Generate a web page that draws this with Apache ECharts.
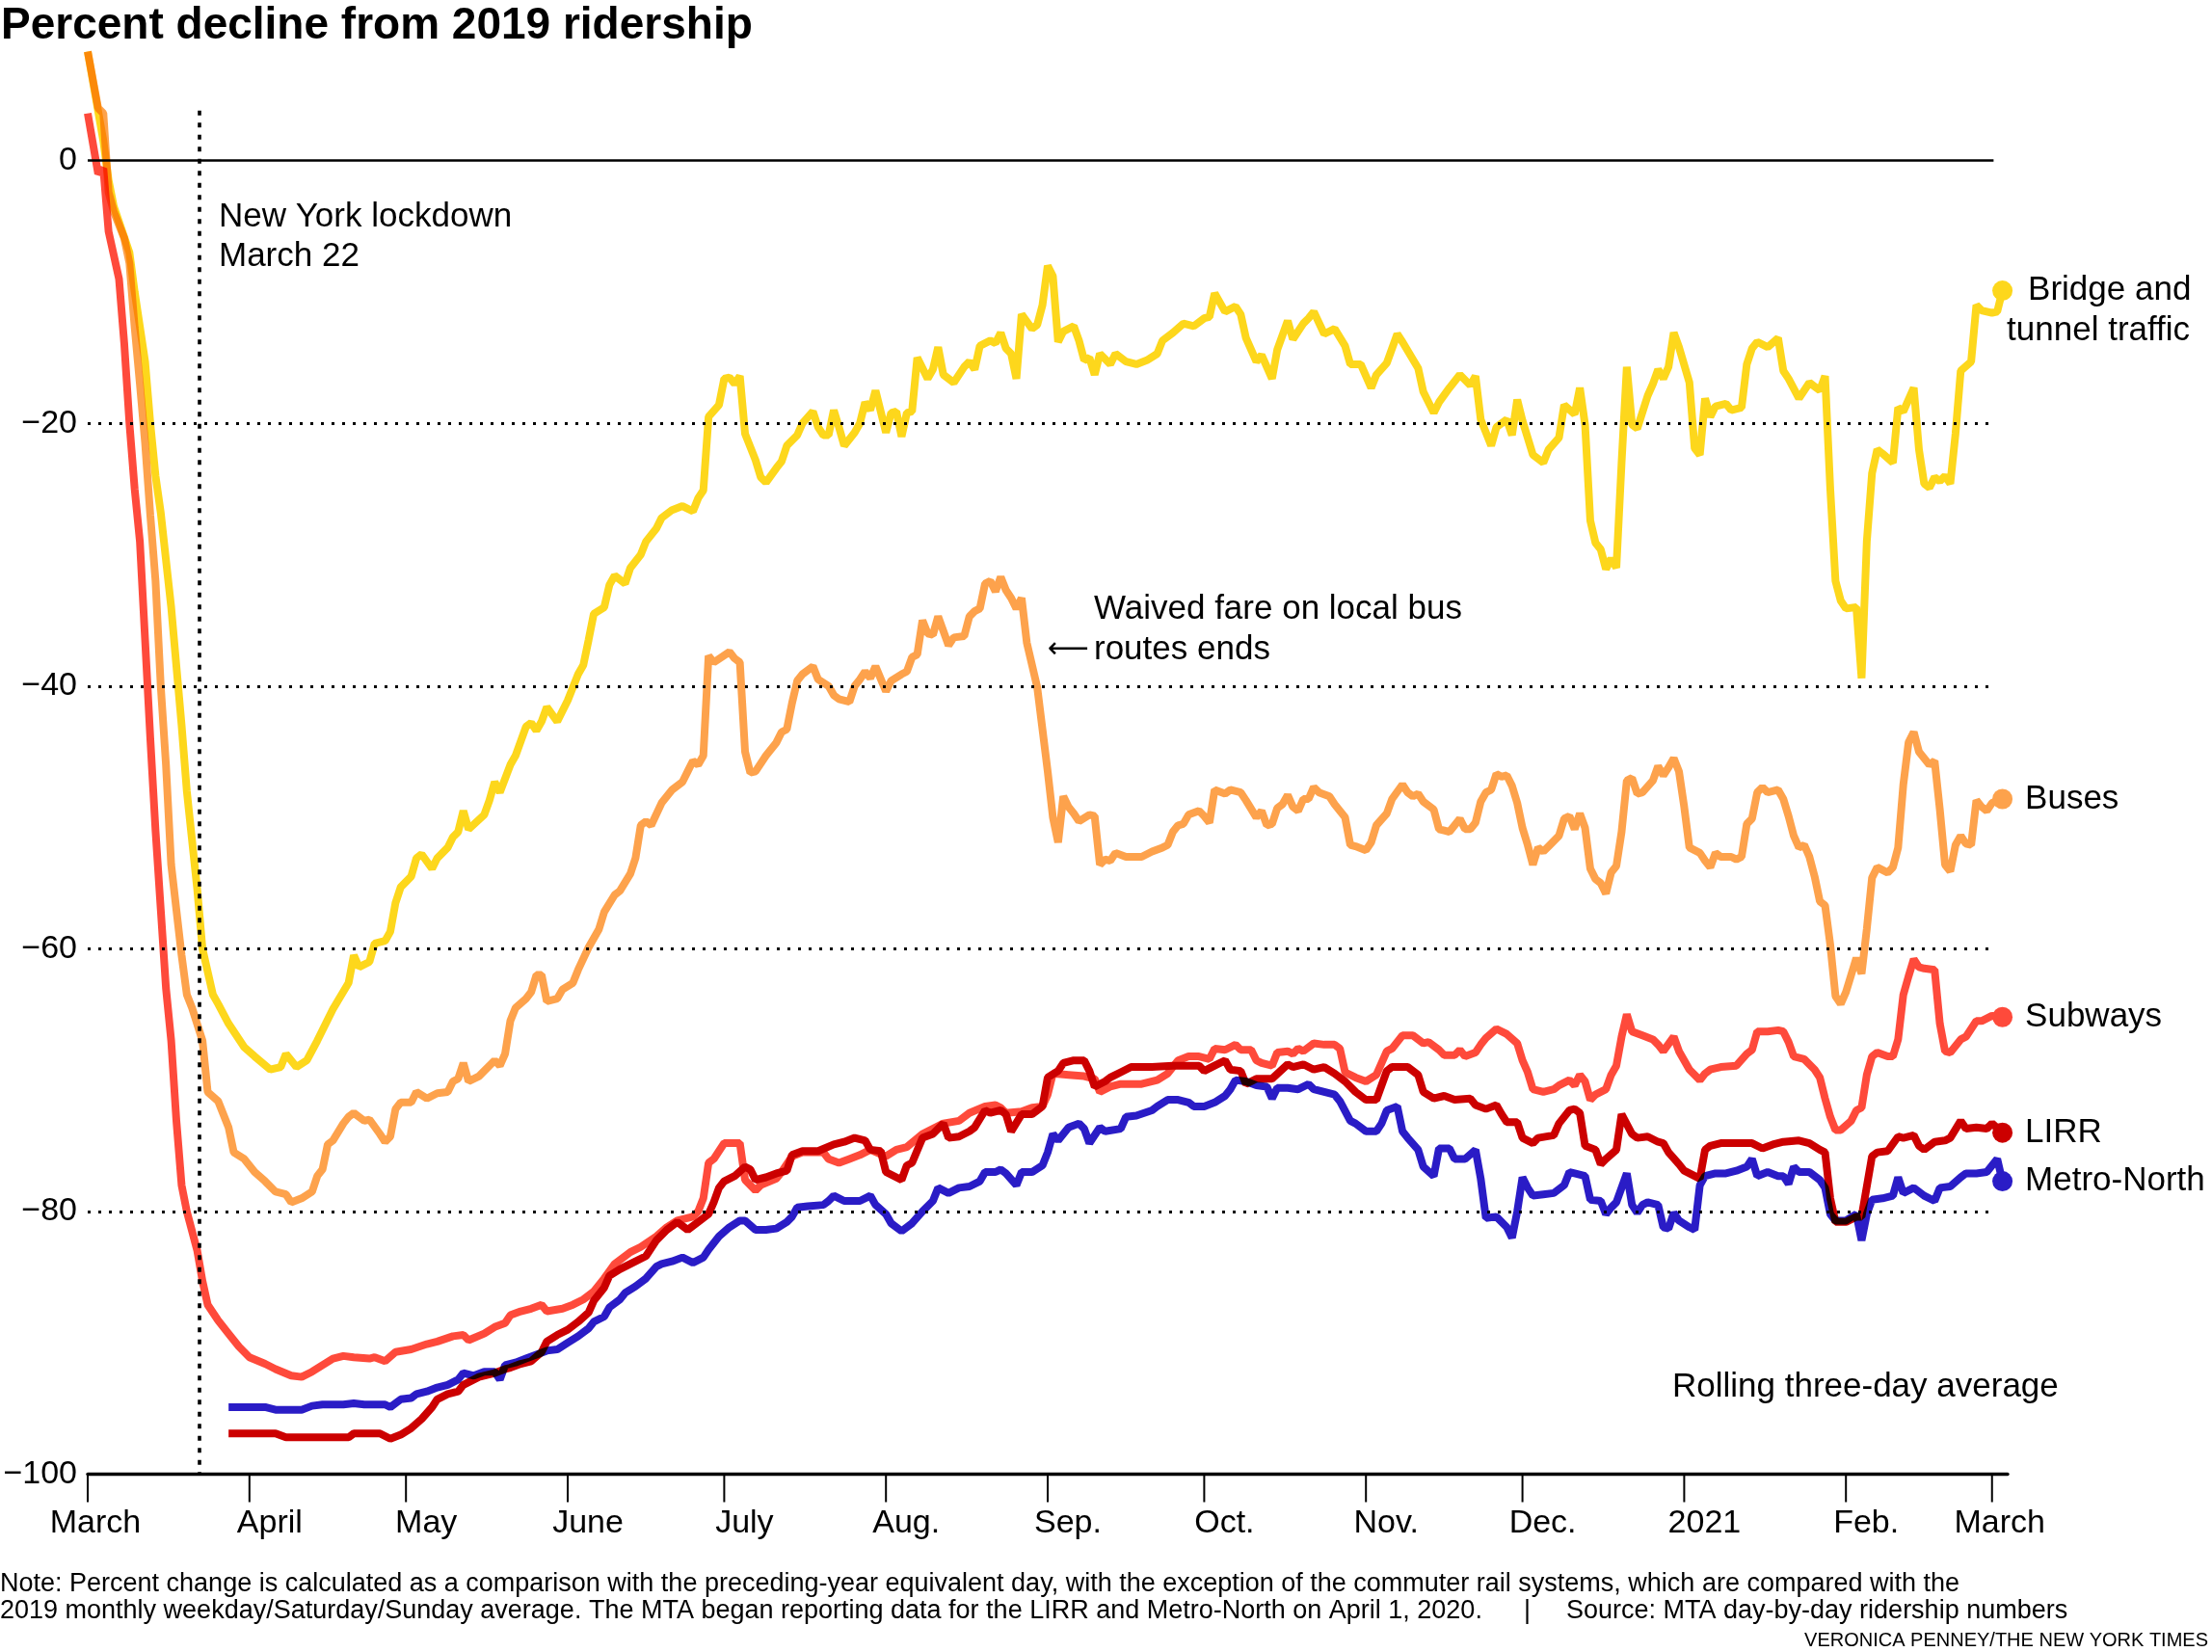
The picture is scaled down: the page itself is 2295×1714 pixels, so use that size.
<!DOCTYPE html>
<html><head><meta charset="utf-8">
<script src="https://cdn.jsdelivr.net/npm/echarts@6/dist/echarts.min.js"></script>
<style>html,body{margin:0;padding:0;background:#fff}#chart{width:2295px;height:1714px}</style>
</head><body><div id="chart"></div>
<script>
// x values: days since March 1, 2020; y values: percent change vs 2019
const START = '2020-03-01';
const monthTickDates = ['2020-03-01','2020-04-01','2020-05-01','2020-06-01','2020-07-01','2020-08-01','2020-09-01','2020-10-01','2020-11-01','2020-12-01','2021-01-01','2021-02-01','2021-03-01'];
const monthTickLabels = ['March','April','May','June','July','Aug.','Sep.','Oct.','Nov.','Dec.','2021','Feb.','March'];
const yTickValues = [0,-20,-40,-60,-80,-100];
const lockdownDay = 21.4; // March 22

const bridgeTunnel = [[0,8.3],[3,1.5],[4,-1.5],[5,-3.5],[8,-7],[9,-10],[11,-15.3],[12,-20],[13,-24],[14,-26.8],[16,-34],[18,-43],[19,-48],[21,-55.5],[22,-60],[24,-63.5],[25,-64.2],[27,-65.7],[30,-67.5],[32,-68.2],[35,-69.2],[37,-69],[38,-68],[40,-69],[42,-68.5],[44,-67],[47,-64.6],[50,-62.6],[51,-60.5],[52,-61.4],[54,-61],[55,-59.6],[57,-59.4],[58,-58.7],[59,-56.5],[60,-55.3],[62,-54.5],[63,-53.1],[64,-52.8],[66,-53.9],[67,-53.1],[69,-52.3],[70,-51.5],[71,-51.1],[72,-49.5],[73,-50.9],[76,-49.8],[77,-48.7],[78,-47.3],[79,-48.1],[81,-46],[82,-45.3],[84,-43.1],[85,-42.8],[86,-43.4],[87,-42.7],[88,-41.6],[90,-42.7],[92,-41.1],[94,-39.1],[95,-38.4],[96,-36.5],[97,-34.5],[99,-34],[100,-32.3],[101,-31.6],[103,-32.2],[104,-31],[106,-30],[107,-29],[109,-28],[110,-27.2],[112,-26.6],[114,-26.3],[116,-26.7],[117,-25.7],[118,-25.1],[119,-19.5],[121,-18.6],[122,-16.6],[123,-16.5],[124,-17],[125,-16.4],[126,-20.8],[128,-22.8],[129,-24.1],[130,-24.5],[132,-23.4],[133,-22.9],[134,-21.7],[136,-20.9],[137,-20],[139,-19.1],[140,-20.3],[141,-20.9],[142,-20.9],[143,-19],[144,-20.3],[145,-21.7],[147,-20.7],[148,-20],[149,-18.4],[150,-19],[151,-17.5],[153,-20.7],[154,-19.2],[155,-19.1],[156,-21],[157,-19.2],[158,-19.1],[159,-15],[161,-16.6],[162,-15.9],[163,-14.2],[164,-16.3],[166,-16.9],[168,-15.7],[169,-15.3],[170,-15.9],[171,-14.1],[173,-13.7],[174,-13.9],[175,-13.1],[176,-14.3],[177,-14.7],[178,-16.6],[179,-11.7],[181,-12.8],[182,-12.5],[183,-11],[184,-8],[185,-8.8],[186,-13.8],[187,-13],[189,-12.6],[190,-13.7],[191,-15.2],[192,-15],[193,-16.3],[194,-14.7],[196,-15.5],[197,-14.7],[199,-15.3],[201,-15.5],[203,-15.2],[205,-14.7],[206,-13.7],[208,-13.1],[210,-12.4],[212,-12.6],[214,-12],[215,-11.9],[216,-10.1],[218,-11.5],[220,-11.1],[221,-11.7],[222,-13.5],[224,-15.3],[225,-14.8],[227,-16.6],[228,-14.4],[230,-12.2],[231,-13.6],[233,-12.4],[234,-12],[235,-11.5],[237,-13.2],[239,-12.8],[241,-14.1],[242,-15.5],[244,-15.5],[246,-17.3],[247,-16.3],[249,-15.4],[251,-13.2],[252,-13.8],[255,-15.8],[256,-17.6],[258,-19.2],[259,-18.4],[261,-17.3],[263,-16.3],[265,-17.1],[266,-16.4],[267,-19.7],[269,-21.7],[270,-20.3],[272,-19.7],[273,-20.9],[274,-18.2],[275,-19.8],[277,-22.4],[279,-23],[280,-22],[282,-21.1],[283,-18.6],[285,-19.3],[286,-17.3],[287,-20.1],[288,-27.4],[289,-29.1],[290,-29.6],[291,-31.1],[292,-30.3],[293,-31],[294,-23],[295,-15.7],[296,-20.1],[297,-20.4],[299,-17.9],[300,-17],[301,-15.9],[302,-16.6],[303,-15.7],[304,-13.1],[305,-14.2],[307,-16.9],[308,-21.9],[309,-22.4],[310,-18.1],[311,-19.5],[312,-18.7],[314,-18.5],[315,-19],[317,-18.8],[318,-15.5],[319,-14.3],[320,-13.8],[322,-14.2],[324,-13.5],[325,-16],[326,-16.6],[328,-18.1],[330,-16.9],[332,-17.5],[333,-16.4],[334,-25],[335,-32],[336,-33.5],[337,-34.1],[339,-34],[340,-39.4],[341,-29],[342,-23.8],[343,-22],[344,-22.3],[346,-23],[347,-18.8],[348,-19.1],[350,-17.3],[351,-22],[352,-24.6],[353,-24.9],[354,-24.1],[355,-24.4],[356,-24],[357,-24.6],[358,-20.8],[359,-16],[361,-15.3],[362,-11],[363,-11.4],[365,-11.6],[366,-11.5],[367,-9.9]];

const buses = [[0,8.3],[2,4],[3,3.6],[4,-2.4],[5,-3.9],[7,-5.9],[8,-7.8],[9,-12.7],[10,-17],[11,-21.5],[12,-27],[13,-32],[14,-40],[15,-46],[16,-53.6],[18,-60.5],[19,-63.5],[20,-64.5],[22,-67],[23,-70.9],[25,-71.6],[27,-73.6],[28,-75.5],[30,-76],[32,-77],[34,-77.7],[36,-78.5],[38,-78.7],[39,-79.3],[41,-79],[43,-78.5],[44,-77.3],[45,-76.8],[46,-74.9],[47,-74.6],[49,-73.3],[50,-72.8],[51,-72.5],[53,-73.1],[54,-73],[56,-74.1],[57,-74.7],[58,-74.3],[59,-72.2],[60,-71.7],[62,-71.7],[63,-70.9],[65,-71.4],[67,-71],[69,-70.9],[70,-70.1],[71,-69.9],[72,-68.7],[73,-70.1],[75,-69.7],[76,-69.3],[78,-68.5],[79,-68.9],[80,-68],[81,-65.5],[82,-64.5],[84,-63.8],[85,-63.3],[86,-62],[87,-62],[88,-64],[90,-63.8],[91,-63.1],[93,-62.6],[94,-61.6],[96,-59.9],[98,-58.5],[99,-57.2],[101,-55.9],[102,-55.6],[104,-54.3],[105,-53.1],[106,-50.6],[107,-50.3],[108,-50.6],[110,-48.9],[112,-47.9],[114,-47.3],[115,-46.5],[116,-45.7],[117,-46],[118,-45.3],[119,-37.7],[120,-38.2],[123,-37.4],[124,-37.9],[125,-38.2],[126,-45],[127,-46.6],[128,-46.5],[130,-45.3],[132,-44.3],[133,-43.5],[134,-43.3],[135,-41.3],[136,-39.6],[137,-39.1],[139,-38.5],[140,-39.5],[142,-40],[143,-40.7],[144,-41],[146,-41.2],[147,-40],[148,-39.5],[149,-38.9],[150,-39.4],[151,-38.5],[153,-40.4],[154,-39.6],[156,-39.1],[157,-38.9],[158,-37.8],[159,-37.6],[160,-35],[161,-36],[162,-36.1],[163,-34.7],[165,-36.9],[166,-36.3],[168,-36.2],[169,-34.7],[170,-34.3],[171,-34.1],[172,-32.2],[173,-32],[174,-32.8],[175,-31.7],[176,-32.7],[177,-33.3],[178,-34.1],[179,-33.3],[180,-36.7],[182,-40.1],[183,-43.3],[184,-46.5],[185,-50],[186,-51.9],[187,-48.4],[188,-49.2],[189,-49.7],[190,-50.3],[192,-49.8],[193,-49.9],[194,-53.6],[195,-53.2],[196,-53.3],[197,-52.7],[199,-53],[202,-53],[204,-52.6],[206,-52.3],[207,-52.1],[208,-51.1],[209,-50.6],[210,-50.5],[211,-49.8],[213,-49.5],[214,-49.9],[215,-50.4],[216,-47.9],[218,-48.2],[219,-47.9],[221,-48.1],[222,-48.7],[224,-50],[225,-49.5],[226,-50.6],[227,-50.5],[228,-49.3],[229,-49],[230,-48.3],[231,-49.2],[232,-49.5],[233,-48.6],[234,-48.6],[235,-47.7],[236,-48.1],[238,-48.4],[239,-49],[241,-50],[242,-52.1],[243,-52.2],[245,-52.5],[246,-51.9],[247,-50.6],[249,-49.7],[250,-48.6],[252,-47.5],[253,-48.1],[254,-48.4],[255,-48.2],[256,-48.8],[258,-49.4],[259,-50.9],[260,-51],[261,-51.1],[263,-50.1],[264,-50.9],[265,-50.9],[266,-50.4],[267,-48.8],[268,-48.1],[269,-47.9],[270,-46.7],[271,-46.9],[272,-46.8],[273,-47.6],[274,-48.9],[275,-50.8],[276,-52.1],[277,-53.6],[278,-52.3],[279,-52.6],[280,-52.2],[282,-51.4],[283,-50.1],[284,-49.9],[285,-50.9],[286,-49.7],[287,-50.8],[288,-53.9],[289,-54.7],[290,-55],[291,-55.8],[292,-54.2],[293,-53.7],[294,-51.1],[295,-47.2],[296,-47],[297,-48.2],[298,-48.1],[300,-47.2],[301,-46.1],[302,-46.8],[303,-46.2],[304,-45.5],[305,-46.5],[306,-49.2],[307,-52.3],[309,-52.7],[310,-53.3],[311,-53.8],[312,-52.7],[313,-53],[315,-53],[316,-53.2],[317,-53],[318,-50.5],[319,-50.1],[320,-48.1],[321,-47.7],[322,-48.1],[324,-47.9],[325,-48.6],[326,-49.9],[327,-51.4],[328,-52.3],[329,-52.1],[330,-53],[331,-54.5],[332,-56.4],[333,-56.7],[334,-59.7],[335,-63.6],[336,-64.2],[337,-63.3],[338,-62],[339,-60.7],[340,-61.9],[341,-58.5],[342,-54.6],[343,-53.8],[345,-54.2],[346,-53.8],[347,-52.3],[348,-47.5],[349,-44.3],[350,-43.5],[351,-45],[352,-45.5],[353,-46],[354,-45.7],[355,-49.4],[356,-53.6],[357,-54.1],[358,-52.1],[359,-51.4],[360,-52],[361,-52.1],[362,-48.7],[363,-49.2],[364,-49.5],[365,-48.9],[367,-48.6]];

const subways = [[0,3.6],[2,-1],[3,-0.6],[4,-5.4],[6,-9],[7,-13.9],[8,-20],[9,-25],[10,-29],[11,-36.5],[12,-44],[13,-51],[14,-57],[15,-63],[16,-67],[17,-73.1],[18,-78],[19,-80],[21,-83],[22,-85.3],[23,-87.1],[25,-88.3],[27,-89.3],[29,-90.3],[31,-91.1],[34,-91.6],[36,-92],[39,-92.5],[41,-92.6],[43,-92.2],[45,-91.7],[47,-91.2],[49,-91],[51,-91.1],[54,-91.2],[55,-91.1],[57,-91.4],[59,-90.7],[62,-90.5],[65,-90.1],[67,-89.9],[70,-89.5],[72,-89.4],[73,-89.8],[76,-89.3],[78,-88.8],[80,-88.5],[81,-87.9],[83,-87.6],[85,-87.4],[87,-87.1],[88,-87.6],[91,-87.4],[93,-87.1],[95,-86.7],[97,-86.1],[99,-85.1],[101,-84],[104,-83.1],[106,-82.7],[109,-81.9],[111,-81.2],[113,-80.7],[116,-80.4],[117,-80],[118,-79],[119,-76.3],[120,-76],[122,-74.8],[125,-74.8],[126,-77.6],[128,-78.4],[129,-78],[132,-77.5],[133,-77],[135,-75.8],[137,-75.5],[141,-75.5],[142,-76],[144,-76.3],[146,-76],[148,-75.7],[150,-75.3],[153,-75.8],[155,-75.3],[157,-75.1],[160,-74.1],[162,-73.7],[164,-73.3],[167,-73.1],[169,-72.5],[172,-72],[174,-71.9],[175,-72.1],[176,-72.5],[179,-72.4],[181,-72.1],[183,-72],[184,-71.1],[185,-69.5],[188,-69.6],[191,-69.7],[193,-69.9],[194,-70.9],[196,-70.5],[198,-70.3],[202,-70.3],[205,-70],[207,-69.5],[209,-68.5],[211,-68.2],[213,-68.2],[215,-68.4],[216,-67.6],[218,-67.7],[220,-67.3],[221,-67.7],[223,-67.7],[224,-68.5],[225,-68.7],[227,-68.9],[228,-67.9],[230,-67.8],[231,-68],[232,-67.6],[233,-67.8],[235,-67.2],[237,-67.3],[239,-67.3],[240,-67.6],[241,-69.4],[243,-69.8],[245,-70.1],[247,-69.6],[249,-67.8],[250,-67.6],[252,-66.6],[254,-66.6],[256,-67.2],[257,-67.1],[259,-67.7],[260,-68.1],[262,-68.1],[263,-67.7],[264,-68.2],[266,-67.9],[267,-67.3],[268,-66.8],[270,-66.1],[272,-66.5],[274,-67.2],[275,-68.5],[276,-69.4],[277,-70.7],[279,-70.9],[281,-70.7],[282,-70.4],[284,-70],[285,-70.4],[286,-69.6],[287,-70.1],[288,-71.5],[289,-71.1],[291,-70.7],[292,-69.6],[293,-68.9],[294,-66.7],[295,-65],[296,-66.3],[298,-66.6],[300,-66.9],[301,-67.3],[302,-67.8],[304,-66.7],[305,-67.8],[307,-69.2],[309,-70],[310,-69.5],[311,-69.2],[313,-69],[316,-68.9],[318,-68],[319,-67.7],[320,-66.3],[322,-66.3],[324,-66.2],[325,-66.3],[326,-67.1],[327,-68.2],[329,-68.4],[331,-69.2],[332,-69.8],[333,-71.4],[334,-72.8],[335,-73.8],[336,-73.8],[338,-73.1],[339,-72.3],[340,-72.1],[341,-69.6],[342,-68.2],[343,-67.9],[345,-68.2],[346,-68.2],[347,-66.9],[348,-63.5],[349,-62.1],[350,-60.8],[351,-61.4],[352,-61.5],[354,-61.6],[355,-65.7],[356,-67.8],[357,-67.9],[359,-66.9],[360,-66.7],[362,-65.5],[363,-65.5],[365,-65.1],[367,-65.2]];

const lirr = [[27,-96.9],[36,-96.9],[38,-97.2],[50,-97.2],[51,-96.9],[56,-96.9],[58,-97.3],[60,-97],[62,-96.5],[64,-95.8],[66,-94.9],[67,-94.3],[69,-93.9],[71,-93.7],[72,-93.2],[73,-93],[75,-92.6],[78,-92.3],[80,-92],[81,-91.9],[83,-91.6],[85,-91.4],[87,-90.7],[88,-89.9],[90,-89.4],[92,-89],[94,-88.4],[96,-87.7],[97,-86.8],[99,-85.8],[100,-84.9],[102,-84.4],[104,-84],[107,-83.4],[109,-82.2],[111,-81.4],[113,-80.8],[115,-81.4],[117,-80.8],[119,-80.2],[120,-79.3],[121,-78.2],[122,-77.7],[124,-77.3],[126,-76.6],[127,-76.8],[128,-77.6],[130,-77.4],[132,-77.1],[134,-76.9],[135,-75.7],[137,-75.4],[140,-75.4],[143,-74.9],[145,-74.7],[147,-74.4],[149,-74.6],[150,-75.3],[152,-75.4],[153,-77],[155,-77.4],[156,-77.6],[157,-76.5],[158,-76.3],[160,-74.4],[162,-74.1],[164,-73.3],[165,-74.4],[167,-74.3],[169,-73.9],[170,-73.6],[172,-72.3],[173,-72.5],[175,-72.3],[176,-72.6],[177,-73.9],[179,-72.6],[181,-72.6],[182,-72.3],[183,-72],[184,-69.8],[186,-69.3],[187,-68.7],[189,-68.5],[191,-68.5],[192,-69.3],[193,-70.5],[195,-70.1],[196,-69.8],[198,-69.4],[200,-69],[204,-69],[208,-68.9],[213,-68.9],[214,-69.3],[216,-68.9],[218,-68.5],[219,-69.2],[221,-69.3],[222,-70.3],[224,-69.9],[227,-69.9],[230,-68.8],[231,-69],[233,-68.8],[235,-69.2],[237,-69],[239,-69.5],[241,-70.1],[243,-70.9],[245,-71.5],[247,-71.5],[248,-70.4],[249,-69.3],[250,-69],[253,-69],[255,-69.6],[256,-70.9],[258,-71.4],[260,-71.2],[262,-71.5],[265,-71.4],[266,-71.9],[268,-72.2],[270,-71.9],[271,-72.6],[272,-73.2],[274,-73.2],[275,-74.4],[277,-74.8],[278,-74.4],[281,-74.2],[282,-73.3],[284,-72.3],[285,-72.2],[286,-72.5],[287,-75],[289,-75.3],[290,-76.4],[291,-76],[293,-75.3],[294,-72.6],[296,-74.1],[297,-74.4],[299,-74.3],[301,-74.7],[302,-74.8],[303,-75.5],[305,-76.4],[306,-76.9],[309,-77.5],[310,-75.3],[311,-75],[313,-74.8],[319,-74.8],[321,-75.2],[323,-74.9],[325,-74.7],[328,-74.6],[330,-74.8],[332,-75.3],[333,-75.5],[334,-79],[335,-80.8],[337,-80.8],[339,-80.4],[340,-80.4],[342,-75.8],[343,-75.5],[345,-75.4],[347,-74.3],[348,-74.4],[350,-74.2],[351,-75],[352,-75.3],[354,-74.7],[356,-74.6],[357,-74.4],[359,-73.1],[360,-73.7],[362,-73.6],[364,-73.7],[365,-73.3],[367,-74]];

const metroNorth = [[27,-94.9],[34,-94.9],[36,-95.1],[41,-95.1],[43,-94.8],[45,-94.7],[49,-94.7],[51,-94.6],[53,-94.7],[57,-94.7],[58,-94.9],[60,-94.3],[62,-94.2],[63,-93.9],[65,-93.7],[67,-93.4],[69,-93.2],[71,-92.8],[72,-92.3],[74,-92.5],[76,-92.2],[78,-92.2],[79,-92.8],[80,-91.7],[82,-91.5],[84,-91.2],[86,-90.9],[88,-90.6],[90,-90.5],[92,-90],[94,-89.5],[96,-88.9],[97,-88.4],[99,-88],[100,-87.3],[102,-86.7],[103,-86.2],[105,-85.7],[107,-85.1],[109,-84.2],[110,-84],[112,-83.8],[114,-83.5],[116,-83.9],[118,-83.5],[119,-82.9],[121,-81.9],[123,-81.2],[125,-80.7],[126,-80.7],[128,-81.4],[130,-81.4],[132,-81.3],[134,-80.8],[135,-80.4],[136,-79.7],[138,-79.6],[141,-79.5],[142,-79.2],[143,-78.8],[145,-79.2],[148,-79.2],[150,-78.8],[151,-79.5],[153,-80.2],[154,-80.9],[156,-81.5],[158,-80.9],[160,-80],[162,-79.2],[163,-78.2],[165,-78.6],[167,-78.2],[169,-78.1],[171,-77.7],[172,-77],[174,-77],[175,-76.8],[176,-77.1],[178,-78],[179,-77],[181,-77],[183,-76.5],[184,-75.5],[185,-74.1],[186,-74.6],[188,-73.6],[190,-73.3],[191,-73.7],[192,-74.8],[194,-73.6],[195,-73.9],[198,-73.7],[199,-72.8],[201,-72.7],[204,-72.3],[205,-72],[207,-71.5],[209,-71.5],[211,-71.7],[212,-72],[214,-72],[216,-71.7],[218,-71.2],[219,-70.7],[220,-70],[222,-70.1],[224,-70.4],[226,-70.5],[227,-71.4],[228,-70.6],[230,-70.6],[232,-70.7],[234,-70.3],[235,-70.7],[237,-70.9],[239,-71.1],[240,-71.6],[242,-73.1],[243,-73.3],[245,-73.9],[247,-73.9],[248,-73.3],[249,-72.3],[251,-72],[252,-73.9],[253,-74.4],[255,-75.3],[256,-76.6],[258,-77.3],[259,-75.2],[261,-75.2],[262,-76],[264,-76],[266,-75.3],[267,-77.5],[268,-80.5],[270,-80.4],[272,-81.2],[273,-82],[274,-80],[275,-77.4],[276,-78.2],[277,-78.8],[279,-78.7],[281,-78.6],[283,-78],[284,-77],[285,-77.1],[287,-77.3],[288,-79.1],[290,-79.2],[291,-80.2],[292,-79.7],[293,-79.3],[295,-77.1],[296,-79.5],[297,-80.1],[298,-79.5],[299,-79.3],[301,-79.5],[302,-81.2],[303,-81.3],[304,-80.1],[305,-80.7],[307,-81.2],[308,-81.4],[309,-78],[310,-77.3],[312,-77.1],[314,-77.1],[316,-76.9],[318,-76.6],[319,-76],[320,-77.3],[322,-77],[324,-77.3],[325,-77.3],[326,-77.9],[327,-76.6],[328,-77],[330,-77],[332,-77.6],[333,-78.2],[334,-80.2],[335,-80.7],[337,-80.7],[339,-80.2],[340,-82.2],[341,-80.2],[342,-79.1],[344,-79],[346,-78.8],[347,-77.4],[348,-78.6],[350,-78.2],[352,-78.8],[354,-79.2],[355,-78.2],[357,-78.1],[359,-77.4],[360,-77.1],[362,-77.1],[364,-77],[366,-76],[367,-77.7]];

const seriesNames = ['Bridge and tunnel traffic','Buses','Subways','Metro-North','LIRR'];
const seriesData = [bridgeTunnel, buses, subways, metroNorth, lirr];
const seriesColors = ['#fdd71c','#fda24c','#fe4a3b','#2a1cc6','#cc0000'];

// ---------------------------------------------------------------------
const FONT = '"Liberation Sans", Arial, Helvetica, sans-serif';
const DAY_MS = 86400000;
const T0 = Date.parse(START);
const toTime = d => T0 + d * DAY_MS;

const chart = echarts.init(document.getElementById('chart'), null, {renderer: 'canvas'});

const dotted = {type: [3, 8], width: 2.8, color: '#000'};
const gridLineEnd = 365.3;
const markLineData = [
  [{coord: [toTime(0), 0], lineStyle: {type: 'solid', width: 2.6, color: '#000'}}, {coord: [toTime(gridLineEnd), 0]}]
].concat(yTickValues.filter(v => v !== 0 && v !== -100).map(v => [
  {coord: [toTime(0), v], lineStyle: dotted}, {coord: [toTime(gridLineEnd), v]}
])).concat([
  [{coord: [toTime(lockdownDay), 3.8], lineStyle: {type: [5, 7.5], width: 3.6, color: '#000'}}, {coord: [toTime(lockdownDay), -100]}]
]);

const lineSeries = seriesNames.map((name, i) => ({
  name, type: 'line', z: 3,
  data: seriesData[i].map(p => [toTime(p[0]), p[1]]),
  showSymbol: false, symbol: 'none', smooth: false,
  lineStyle: {color: seriesColors[i], width: 8},
  itemStyle: {color: seriesColors[i]},
  emphasis: {disabled: true}, silent: true
}));

const endLabelOpts = {
  'Bridge and tunnel traffic': {formatter: '{a|Bridge and}\n{b|tunnel traffic}', offset: [-19, 21]},
};
const endPoints = seriesNames.map((name, i) => {
  const last = seriesData[i][seriesData[i].length - 1];
  const extra = endLabelOpts[name] || {};
  return {
    name,
    value: [toTime(last[0]), last[1]],
    itemStyle: {color: seriesColors[i], opacity: 1},
    label: {
      show: true, position: 'right', distance: 13,
      formatter: extra.formatter || '{b|{b}}',
      offset: extra.offset || [0, 0],
      rich: {
        a: {fontSize: 35, fontFamily: FONT, color: '#000', lineHeight: 42, padding: [0, 0, 0, 22]},
        b: {fontSize: 35, fontFamily: FONT, color: '#000', lineHeight: 42}
      }
    }
  };
});

const option = {
  backgroundColor: '#fff',
  animation: false,
  useUTC: true,
  grid: {left: 91, right: 212, top: 44, bottom: 184.5, containLabel: false, outerBoundsMode: 'none'},
  xAxis: {
    type: 'time', min: toTime(0), max: toTime(368),
    axisLine: {show: true, onZero: false, lineStyle: {color: '#000', width: 3.4}},
    axisTick: {show: false}, axisLabel: {show: false}, splitLine: {show: false}
  },
  yAxis: {
    type: 'value', min: -100, max: 9, interval: 20,
    axisLine: {show: false}, axisTick: {show: false}, splitLine: {show: false},
    axisLabel: {
      fontSize: 34, fontFamily: FONT, color: '#000', margin: 11,
      formatter: v => yTickValues.indexOf(v) >= 0 ? (v < 0 ? '\u2212' + (-v) : String(v)) : ''
    }
  },
  series: [
    {
      type: 'line', name: 'grid', z: 1, silent: true, symbol: 'none',
      data: [[toTime(0), 0]], lineStyle: {width: 0},
      markLine: {symbol: ['none', 'none'], silent: true, animation: false, label: {show: false},
        emphasis: {disabled: true}, data: markLineData}
    },
    {
      type: 'custom', name: 'monthTicks', z: 2, clip: false, silent: true,
      data: monthTickDates.map(s => [Date.parse(s), -100]),
      encode: {x: 0, y: 1},
      renderItem: (params, api) => {
        const p = api.coord([api.value(0), -100]);
        const label = monthTickLabels[params.dataIndex];
        const dx = label === 'March' ? 8 : 21;
        return {type: 'group', children: [
          {type: 'line', shape: {x1: p[0], y1: p[1], x2: p[0], y2: p[1] + 29}, style: {stroke: '#000', lineWidth: 2}},
          {type: 'text', x: p[0] + dx, y: p[1] + 51.5, style: {text: label, fill: '#000', fontSize: 34, fontFamily: FONT, align: 'center', verticalAlign: 'middle'}}
        ]};
      }
    }
  ].concat(lineSeries).concat([
    {type: 'scatter', name: 'ends', z: 5, symbolSize: 21, silent: true, itemStyle: {opacity: 1}, data: endPoints}
  ]),
  graphic: [
    {type: 'text', left: 1, top: 4, style: {text: 'Percent decline from 2019 ridership', fontSize: 46, fontWeight: 'bold', fontFamily: FONT, fill: '#000'}},
    {type: 'text', x: 227, y: 225, style: {text: 'New York lockdown', fontSize: 35, fontFamily: FONT, fill: '#000', verticalAlign: 'middle'}},
    {type: 'text', x: 227, y: 266.5, style: {text: 'March 22', fontSize: 35, fontFamily: FONT, fill: '#000', verticalAlign: 'middle'}},
    {type: 'text', x: 1135, y: 632.5, style: {text: 'Waived fare on local bus', fontSize: 35, fontFamily: FONT, fill: '#000', verticalAlign: 'middle'}},
    {type: 'text', x: 1135, y: 674, style: {text: 'routes ends', fontSize: 35, fontFamily: FONT, fill: '#000', verticalAlign: 'middle'}},
    {type: 'text', x: 1130, y: 674, style: {text: '\u27F5', fontSize: 30, fontFamily: '"DejaVu Sans", sans-serif', fill: '#000', align: 'right', verticalAlign: 'middle'}},
    {type: 'text', x: 1735, y: 1439.5, style: {text: 'Rolling three-day average', fontSize: 35, fontFamily: FONT, fill: '#000', verticalAlign: 'middle'}},
    {type: 'text', x: 0, y: 1644, style: {text: 'Note: Percent change is calculated as a comparison with the preceding-year equivalent day, with the exception of the commuter rail systems, which are compared with the', fontSize: 27, fontFamily: FONT, fill: '#000', verticalAlign: 'middle'}},
    {type: 'text', x: 0, y: 1671.5, style: {text: '2019 monthly weekday/Saturday/Sunday average. The MTA began reporting data for the LIRR and Metro-North on April 1, 2020.', fontSize: 27, fontFamily: FONT, fill: '#000', verticalAlign: 'middle'}},
    {type: 'text', x: 1581, y: 1671.5, style: {text: '|', fontSize: 27, fontFamily: FONT, fill: '#000', verticalAlign: 'middle'}},
    {type: 'text', x: 1625, y: 1671.5, style: {text: 'Source: MTA day-by-day ridership numbers', fontSize: 27, fontFamily: FONT, fill: '#000', verticalAlign: 'middle'}},
    {type: 'text', x: 2291, y: 1702, style: {text: 'VERONICA PENNEY/THE NEW YORK TIMES', fontSize: 20, fontFamily: FONT, fill: '#000', align: 'right', verticalAlign: 'middle'}}
  ]
};

chart.setOption(option);

// overlapping lines darken each other like in the original print graphic
try {
  const zr = chart.getZr();
  zr.storage.getDisplayList(true).forEach(el => {
    if (el.type === 'ec-polyline') { el.style.blend = 'multiply'; el.markRedraw(); }
  });
  zr.refreshImmediately();
} catch (e) {}
</script></body></html>
